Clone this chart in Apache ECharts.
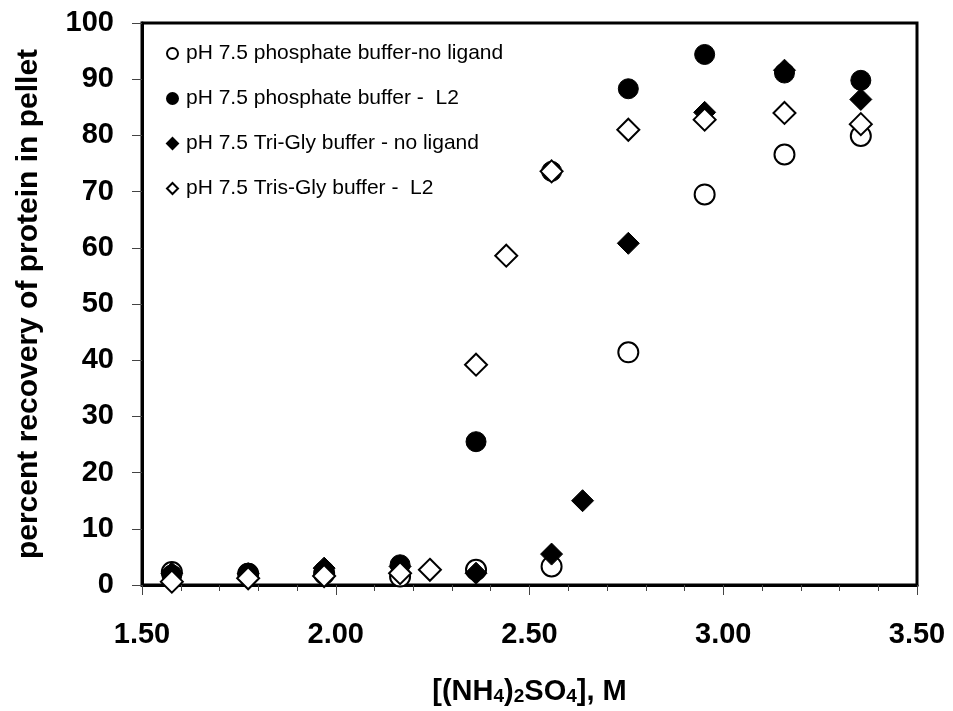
<!DOCTYPE html>
<html>
<head>
<meta charset="utf-8">
<script src="https://cdn.jsdelivr.net/npm/echarts@6/dist/echarts.min.js"></script>
<style>
  html, body { margin: 0; padding: 0; background: #fff; }
  #chart { width: 953px; height: 711px; }
</style>
</head>
<body>
<div id="chart"></div>
<script>
// [(NH4)2SO4] concentrations, M
const xPhosNoLig = [1.577, 1.774, 1.970, 2.166, 2.362, 2.557, 2.755, 2.952, 3.158, 3.355]
const yPhosNoLig = [2.3, 2.0, 2.0, 1.5, 2.7, 3.3, 41.4, 69.5, 76.6, 79.9]

const xPhosL2 = [1.577, 1.774, 1.970, 2.166, 2.362, 2.557, 2.755, 2.952, 3.158, 3.355]
const yPhosL2 = [1.8, 2.1, 2.5, 3.6, 25.5, 73.6, 88.3, 94.4, 91.1, 89.8]

const xTriNoLig = [1.577, 1.774, 1.970, 2.166, 2.362, 2.557, 2.637, 2.755, 2.952, 3.158, 3.355]
const yTriNoLig = [2.1, 2.0, 3.0, 3.3, 2.1, 5.5, 15.0, 60.8, 84.1, 91.6, 86.4]

const xTrisL2 = [1.577, 1.774, 1.970, 2.166, 2.243, 2.362, 2.440, 2.557, 2.755, 2.952, 3.158, 3.355]
const yTrisL2 = [0.6, 1.2, 1.6, 2.1, 2.7, 39.2, 58.6, 73.6, 81.0, 82.8, 84.0, 82.0]

const seriesNames = [
  'pH 7.5 phosphate buffer-no ligand',
  'pH 7.5 phosphate buffer -  L2',
  'pH 7.5 Tri-Gly buffer - no ligand',
  'pH 7.5 Tris-Gly buffer -  L2',
]

const pairs = (xs, ys) => xs.map((x, i) => [x, ys[i]])

const font = '"Liberation Sans", Arial, sans-serif'

// open / filled marker styles
const openStyle = { color: '#fff', borderColor: '#000', borderWidth: 2, opacity: 1 }
const filledStyle = { color: '#000', borderColor: '#000', borderWidth: 1, opacity: 1 }

const chart = echarts.init(document.getElementById('chart'))

chart.setOption({
  animation: false,
  backgroundColor: '#fff',
  grid: {
    left: 142,
    right: 36,
    top: 23,
    bottom: 126,
    show: true,
    borderColor: '#000',
    borderWidth: 3,
  },
  legend: {
    orient: 'vertical',
    left: 161,
    top: 38,
    itemWidth: 11,
    itemHeight: 11,
    itemGap: 24,
    data: seriesNames,
    textStyle: {
      fontFamily: font,
      fontSize: 21,
      color: '#000',
      padding: [0, 0, 0, 3],
    },
  },
  xAxis: {
    type: 'value',
    min: 1.5,
    max: 3.5,
    interval: 0.5,
    axisLine: { lineStyle: { color: '#000', width: 3 } },
    axisTick: { length: 10, lineStyle: { color: '#444', width: 1 } },
    minorTick: { show: true, splitNumber: 5, length: 6, lineStyle: { color: '#444', width: 1 } },
    splitLine: { show: false },
    axisLabel: {
      margin: 35,
      color: '#000',
      fontFamily: font,
      fontSize: 29,
      fontWeight: 'bold',
      formatter: (v) => v.toFixed(2),
    },
    name: '{n|[(NH}{s|4}{n|)}{s|2}{n|SO}{s|4}{n|], M}',
    nameLocation: 'middle',
    nameGap: 88,
    nameTextStyle: {
      rich: {
        n: { fontFamily: font, fontSize: 29, fontWeight: 'bold', color: '#000', verticalAlign: 'bottom', lineHeight: 33 },
        s: { fontFamily: font, fontSize: 19, fontWeight: 'bold', color: '#000', verticalAlign: 'bottom', lineHeight: 26 },
      },
    },
  },
  yAxis: {
    type: 'value',
    min: 0,
    max: 100,
    interval: 10,
    axisLine: { show: true, lineStyle: { color: '#000', width: 3 } },
    axisTick: { show: true, length: 10, lineStyle: { color: '#444', width: 1 } },
    splitLine: { show: false },
    axisLabel: {
      margin: 28,
      color: '#000',
      fontFamily: font,
      fontSize: 29,
      fontWeight: 'bold',
    },
    name: 'percent recovery of protein in pellet',
    nameLocation: 'middle',
    nameGap: 98,
    nameTextStyle: {
      fontFamily: font,
      fontSize: 30,
      fontWeight: 'bold',
      color: '#000',
    },
  },
  series: [
    {
      name: seriesNames[0],
      type: 'scatter',
      symbol: 'circle',
      symbolSize: 20,
      itemStyle: openStyle,
      data: pairs(xPhosNoLig, yPhosNoLig),
    },
    {
      name: seriesNames[1],
      type: 'scatter',
      symbol: 'circle',
      symbolSize: 20,
      itemStyle: filledStyle,
      data: pairs(xPhosL2, yPhosL2),
    },
    {
      name: seriesNames[2],
      type: 'scatter',
      symbol: 'diamond',
      symbolSize: 22,
      itemStyle: filledStyle,
      data: pairs(xTriNoLig, yTriNoLig),
    },
    {
      name: seriesNames[3],
      type: 'scatter',
      symbol: 'diamond',
      symbolSize: 22,
      itemStyle: openStyle,
      data: pairs(xTrisL2, yTrisL2),
    },
  ],
})
</script>
</body>
</html>
